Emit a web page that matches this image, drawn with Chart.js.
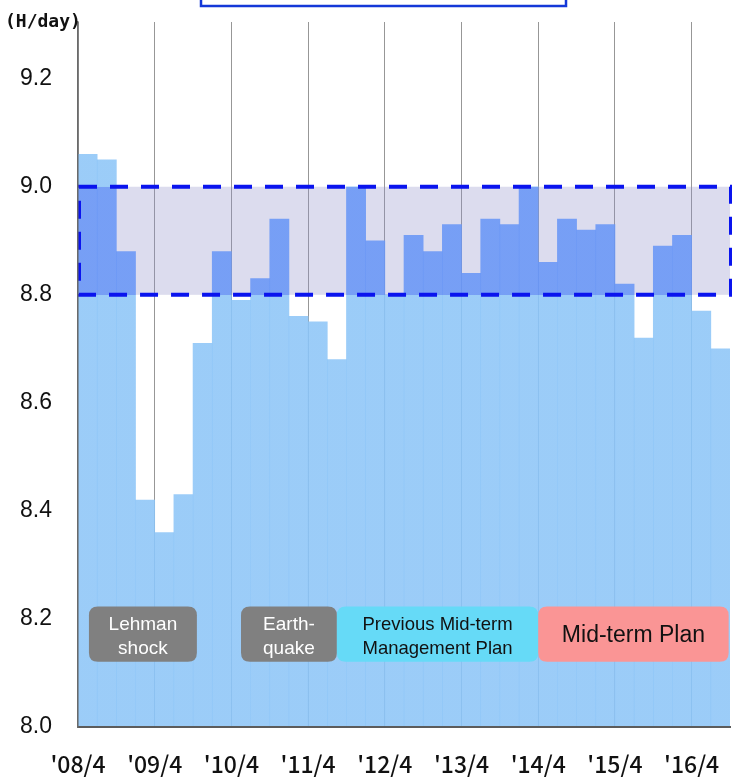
<!DOCTYPE html>
<html>
<head>
<meta charset="utf-8">
<title>Average daily operating hours</title>
<script src="https://cdn.jsdelivr.net/npm/chart.js@4.4.1/dist/chart.umd.min.js"></script>
<style>
  html, body { margin: 0; padding: 0; background: #ffffff; }
  canvas { display: block; }
</style>
</head>
<body>
<canvas id="chart" width="732" height="780"></canvas>
<script>
// Quarterly average operating hours per day, April 2008 onward
const quarterLabels = [
  "08/4", "08/7", "08/10", "09/1",
  "09/4", "09/7", "09/10", "10/1",
  "10/4", "10/7", "10/10", "11/1",
  "11/4", "11/7", "11/10", "12/1",
  "12/4", "12/7", "12/10", "13/1",
  "13/4", "13/7", "13/10", "14/1",
  "14/4", "14/7", "14/10", "15/1",
  "15/4", "15/7", "15/10", "16/1",
  "16/4", "16/7"
];

const hoursPerDay = [
  9.06, 9.05, 8.88, 8.42,
  8.36, 8.43, 8.71, 8.88,
  8.79, 8.83, 8.94, 8.76,
  8.75, 8.68, 9.00, 8.90,
  8.80, 8.91, 8.88, 8.93,
  8.84, 8.94, 8.93, 9.00,
  8.86, 8.94, 8.92, 8.93,
  8.82, 8.72, 8.89, 8.91,
  8.77, 8.70
];

const yearTicks = ["'08/4", "'09/4", "'10/4", "'11/4", "'12/4", "'13/4", "'14/4", "'15/4", "'16/4"];

// Target band (hours per day)
const targetRange = [8.8, 9.0];

// Period captions shown along the bottom of the plot
const periodTexts = [
  ["Lehman", "shock"],
  ["Earth-", "quake"],
  ["Previous Mid-term", "Management Plan"],
  ["Mid-term Plan"]
];

const LIGHT = "rgba(139,196,247,0.86)";
const DARK = "rgba(104,150,246,0.88)";

// Bars are darker where they pass through the target band
function barFill(context) {
  const chart = context.chart;
  const area = chart.chartArea;
  if (!area) return LIGHT;
  const y = chart.scales.y;
  const top = area.top, bottom = area.bottom, h = bottom - top;
  const f1 = (y.getPixelForValue(targetRange[1]) - top) / h;
  const f2 = (y.getPixelForValue(targetRange[0]) - top) / h;
  const g = chart.ctx.createLinearGradient(0, top, 0, bottom);
  g.addColorStop(0, LIGHT);
  g.addColorStop(f1, LIGHT);
  g.addColorStop(f1, DARK);
  g.addColorStop(f2, DARK);
  g.addColorStop(f2, LIGHT);
  g.addColorStop(1, LIGHT);
  return g;
}

function roundBox(ctx, x, y, w, h, r) {
  ctx.beginPath();
  ctx.moveTo(x + r, y);
  ctx.lineTo(x + w - r, y);
  ctx.quadraticCurveTo(x + w, y, x + w, y + r);
  ctx.lineTo(x + w, y + h - r);
  ctx.quadraticCurveTo(x + w, y + h, x + w - r, y + h);
  ctx.lineTo(x + r, y + h);
  ctx.quadraticCurveTo(x, y + h, x, y + h - r);
  ctx.lineTo(x, y + r);
  ctx.quadraticCurveTo(x, y, x + r, y);
  ctx.closePath();
}

const decorations = {
  id: "decorations",
  beforeDatasetsDraw(chart) {
    const { ctx, scales: { x, y } } = chart;
    const x0 = x.getPixelForValue(0);
    const x1 = x.getPixelForValue(quarterLabels.length);
    const yt = y.getPixelForValue(targetRange[1]);
    const yb = y.getPixelForValue(targetRange[0]);
    ctx.save();
    ctx.fillStyle = "rgba(138,138,198,0.30)";
    ctx.fillRect(x0, yt, x1 - x0, yb - yt);
    ctx.restore();
  },
  afterDatasetsDraw(chart) {
    const { ctx, scales: { x, y } } = chart;
    const x0 = x.getPixelForValue(0);
    const x1 = x.getPixelForValue(quarterLabels.length);
    const yt = y.getPixelForValue(targetRange[1]);
    const yb = y.getPixelForValue(targetRange[0]);

    // dashed outline of the target band
    ctx.save();
    ctx.strokeStyle = "#0a14ee";
    ctx.lineWidth = 4;
    ctx.setLineDash([18, 13]);
    ctx.strokeRect(x0 + 1, yt, x1 - x0, yb - yt);
    ctx.restore();

    // period caption boxes: [fromQuarter, toQuarter, fill, text colour, font size]
    const boxes = [
      [0.57, 6.2, "#808080", "#ffffff", 19],
      [8.5, 13.5, "#808080", "#ffffff", 19],
      [13.5, 24.0, "#66daf7", "#111111", 18.5],
      [24.0, 33.93, "#fa9595", "#111111", 23]
    ];
    const byTop = y.getPixelForValue(8.223);
    const byBot = y.getPixelForValue(8.121);
    boxes.forEach((b, i) => {
      const bx0 = x.getPixelForValue(b[0]);
      const bx1 = x.getPixelForValue(b[1]);
      ctx.save();
      ctx.fillStyle = b[2];
      roundBox(ctx, bx0, byTop, bx1 - bx0, byBot - byTop, 9);
      ctx.fill();
      ctx.fillStyle = b[3];
      ctx.font = b[4] + "px 'Liberation Sans', Arial, sans-serif";
      ctx.textAlign = "center";
      ctx.textBaseline = "middle";
      const cx = (bx0 + bx1) / 2;
      const cy = (byTop + byBot) / 2;
      const lines = periodTexts[i];
      if (lines.length === 1) {
        ctx.fillText(lines[0], cx, cy + 2);
      } else {
        ctx.fillText(lines[0], cx, cy - 9);
        ctx.fillText(lines[1], cx, cy + 15);
      }
      ctx.restore();
    });
  },
  afterDraw(chart) {
    const ctx = chart.ctx;
    ctx.save();
    // unit label
    ctx.fillStyle = "#111111";
    ctx.font = "bold 18px 'DejaVu Sans Mono', monospace";
    ctx.textAlign = "left";
    ctx.textBaseline = "alphabetic";
    ctx.fillText("(H/day)", 5, 27);
    // framed heading box running off the top edge
    ctx.strokeStyle = "#1438d8";
    ctx.lineWidth = 2.5;
    ctx.strokeRect(201, -20, 365, 26);
    ctx.restore();
  }
};

Chart.defaults.font.family = "'Liberation Sans', Arial, sans-serif";
Chart.defaults.color = "#1a1a1a";

new Chart(document.getElementById("chart"), {
  type: "bar",
  data: {
    datasets: [{
      label: "H/day",
      data: hoursPerDay.map((v, i) => ({ x: i + 0.5, y: v })),
      backgroundColor: barFill,
      borderWidth: 0,
      barPercentage: 1,
      categoryPercentage: 1
    }]
  },
  options: {
    responsive: false,
    devicePixelRatio: 1,
    animation: false,
    layout: { padding: { top: 22, right: 2, left: 0, bottom: 0 } },
    plugins: {
      legend: { display: false },
      tooltip: { enabled: false }
    },
    scales: {
      x: {
        type: "linear",
        min: 0,
        max: quarterLabels.length,
        offset: false,
        grid: {
          offset: false,
          display: true,
          drawTicks: false,
          color: "rgba(140,140,140,0.9)",
          lineWidth: 1
        },
        border: { display: true, color: "#5c5c5c", width: 2, z: 1 },
        ticks: {
          stepSize: 4,
          includeBounds: false,
          autoSkip: false,
          maxRotation: 0,
          padding: 23,
          color: "#111111",
          font: { family: "'Noto Sans CJK JP', sans-serif", size: 23, weight: "500" },
          callback: (v) => {
            const i = v / 4;
            return Number.isInteger(i) && i < yearTicks.length ? yearTicks[i] : "";
          }
        },
        afterFit: (s) => {
          s.height = 53;
          s.paddingLeft = 0;
          s.paddingRight = 0;
        }
      },
      y: {
        min: 8.0,
        max: 9.305,
        grid: { display: false, drawTicks: false },
        border: { display: true, color: "#6a6a6a", width: 1.5, z: 1 },
        ticks: {
          stepSize: 0.2,
          includeBounds: false,
          padding: 26,
          color: "#111111",
          font: { size: 23 },
          callback: (v) => Number(v).toFixed(1)
        },
        afterFit: (s) => {
          s.width = 78;
          s.paddingTop = 0;
          s.paddingBottom = 0;
        }
      }
    }
  },
  plugins: [decorations]
});
</script>
</body>
</html>
